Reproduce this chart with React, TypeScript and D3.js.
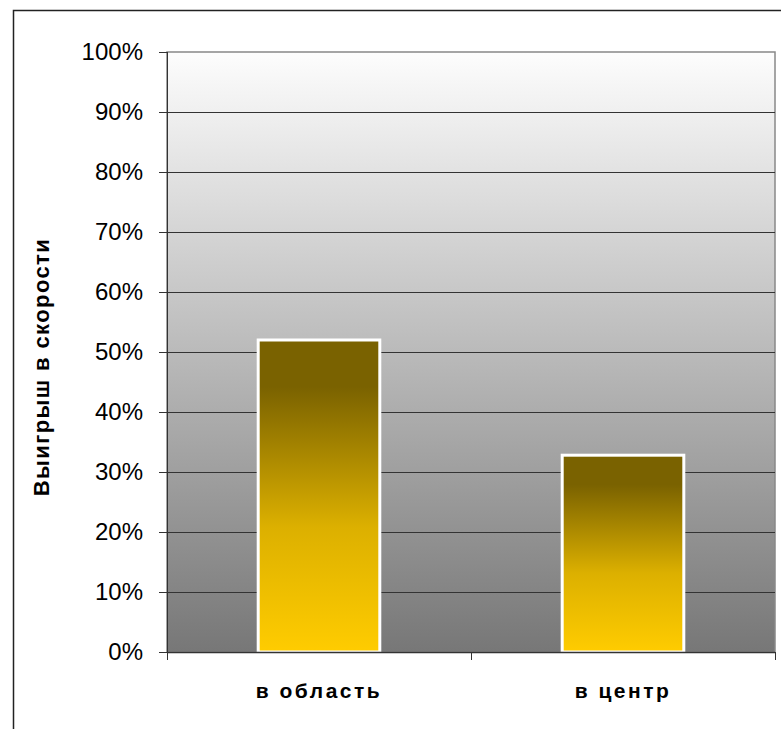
import React from "react";
import * as d3 from "d3";

const categories = ["в область", "в центр"];
const values = [0.52, 0.328];
const yTicks = [0, 0.1, 0.2, 0.3, 0.4, 0.5, 0.6, 0.7, 0.8, 0.9, 1.0];
const yTitle = "Выигрыш в скорости";

export default function App() {
  const W = 781, H = 729;
  const left = 167, right = 775, top = 52, bottom = 652;
  const x = d3.scaleBand<string>().domain(categories).range([left, right]).paddingInner(0.6).paddingOuter(0.3);
  const xb = d3.scaleBand<string>().domain(categories).range([left, right]);
  const y = d3.scaleLinear().domain([0, 1]).range([bottom, top]);
  const fmt = d3.format(".0%");
  return (
    <svg width={W} height={H} style={{ position: "absolute", left: 0, top: 0 }} fontFamily="Liberation Sans, Arial, sans-serif">
      <defs>
        <linearGradient id="bg" x1="0" y1="0" x2="0" y2="1">
          <stop offset="0" stopColor="#fdfdfd" />
          <stop offset="1" stopColor="#777777" />
        </linearGradient>
        <linearGradient id="bar" x1="0" y1="0" x2="0" y2="1">
          <stop offset="0" stopColor="#7a6200" />
          <stop offset="0.15" stopColor="#7a6200" />
          <stop offset="0.6" stopColor="#dcb000" />
          <stop offset="1" stopColor="#ffcc00" />
        </linearGradient>
      </defs>
      <rect x={0} y={0} width={W} height={H} fill="#fff" />
      <rect x={13.5} y={10.5} width={W + 10} height={H + 10} fill="#fff" stroke="#222" strokeWidth={1.5} />
      <rect x={left} y={top} width={right - left} height={bottom - top} fill="url(#bg)" stroke="#888" strokeWidth={1.5} />
      {yTicks.map((t) => (
        <g key={t}>
          {t > 0 && t < 1 && <line x1={left} x2={right} y1={y(t) + 0.5} y2={y(t) + 0.5} stroke="#333" strokeWidth={1} />}
          <line x1={left - 8} x2={left} y1={y(t) + 0.5} y2={y(t) + 0.5} stroke="#333" />
          <text x={143} y={y(t)} dy="0.35em" textAnchor="end" fontSize={24} fill="#000">{fmt(t)}</text>
        </g>
      ))}
      {categories.map((c, i) => (
        <rect key={c} x={x(c)!} y={y(values[i])} width={x.bandwidth()} height={bottom - y(values[i])}
          fill="url(#bar)" stroke="#fff" strokeWidth={3} />
      ))}
      <line x1={left + 0.5} x2={left + 0.5} y1={top} y2={bottom + 8} stroke="#333" />
      <line x1={left} x2={right} y1={bottom + 0.5} y2={bottom + 0.5} stroke="#333" strokeWidth={1.5} />
      {[...categories.map((c) => xb(c)!), right].map((p, i) => (
        <line key={i} x1={p + 0.5} x2={p + 0.5} y1={bottom} y2={bottom + 8} stroke="#333" />
      ))}
      {categories.map((c) => (
        <text key={c} x={xb(c)! + xb.bandwidth() / 2} y={698} textAnchor="middle" fontSize={21} fontWeight="bold" letterSpacing={2.5}>{c}</text>
      ))}
      <text transform={`translate(49,367) rotate(-90)`} textAnchor="middle" fontSize={22} fontWeight="bold" letterSpacing={1.4}>{yTitle}</text>
    </svg>
  );
}
